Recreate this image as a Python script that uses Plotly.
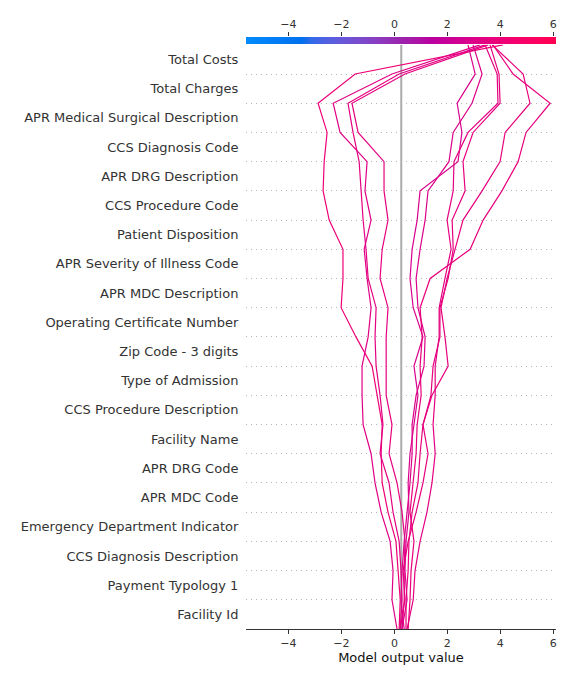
import numpy as np
import plotly.graph_objects as go
from plotly.colors import sample_colorscale

# ---------------- data ----------------
# features listed from top row to bottom row
features = [
    "Total Costs", "Total Charges", "APR Medical Surgical Description",
    "CCS Diagnosis Code", "APR DRG Description", "CCS Procedure Code",
    "Patient Disposition", "APR Severity of Illness Code", "APR MDC Description",
    "Operating Certificate Number", "Zip Code - 3 digits", "Type of Admission",
    "CCS Procedure Description", "Facility Name", "APR DRG Code", "APR MDC Code",
    "Emergency Department Indicator", "CCS Diagnosis Description",
    "Payment Typology 1", "Facility Id",
]
base_value = 0.26
x_range = [-5.6, 6.1]
x_ticks = [-4, -2, 0, 2, 4, 6]
x_tick_labels = ["\u22124", "\u22122", "0", "2", "4", "6"]

# model output along each decision path, from bottom (Facility Id) to top (final output)
path_1 = [0.18, 0.22, 0.14, 0.06, -0.24, -0.46, -0.50, -0.46, -0.65, -0.84, -1.45,
          -2.01, -1.94, -1.94, -2.46, -2.69, -2.65, -2.54, -2.88, -1.48, 4.10]
path_2 = [0.10, -0.09, -0.05, -0.16, -0.50, -0.73, -0.88, -1.18, -1.22, -1.22, -0.99,
          -0.88, -1.03, -1.14, -0.88, -1.11, -1.03, -2.05, -2.31, -0.09, 3.23]
path_3 = [0.22, 0.29, 0.25, 0.18, -0.05, -0.20, -0.54, -0.43, -0.54, -0.69, -0.73,
          -0.69, -0.99, -1.07, -1.18, -1.26, -1.33, -1.56, -1.75, 0.18, 3.42]
path_4 = [0.29, 0.37, 0.37, 0.40, 0.29, 0.10, -0.20, -0.09, -0.31, -0.31, -0.31,
          -0.24, -0.54, -0.46, -0.24, -0.39, -0.39, -1.37, -1.60, 0.40, 3.54]
path_5 = [0.29, 0.48, 0.40, 0.44, 0.55, 0.52, 0.59, 0.74, 0.89, 0.74, 1.08,
          0.71, 0.59, 0.67, 0.86, 0.97, 2.40, 2.55, 2.37, 3.05, 2.78]
path_6 = [0.37, 0.25, 0.29, 0.37, 0.48, 0.59, 0.67, 0.67, 0.82, 1.12, 1.16,
          0.89, 0.82, 0.97, 1.16, 1.27, 2.06, 2.22, 2.93, 3.31, 2.97]
path_7 = [0.48, 0.71, 0.78, 0.97, 1.23, 1.42, 1.54, 1.46, 1.54, 1.54, 1.69,
          1.69, 1.91, 2.14, 1.99, 2.22, 2.25, 2.78, 3.91, 3.88, 3.42]
path_8 = [0.22, 0.40, 0.33, 0.52, 0.82, 1.08, 1.27, 1.08, 1.38, 1.46, 1.72,
          1.72, 2.03, 2.22, 2.18, 2.67, 2.59, 2.97, 3.99, 3.95, 3.61]
path_9 = [0.44, 0.44, 0.52, 0.55, 0.67, 0.89, 0.97, 1.08, 1.42, 2.03, 1.91,
          1.76, 1.99, 2.29, 2.59, 3.31, 3.99, 4.18, 5.12, 4.86, 3.69]
path_10 = [0.52, 0.59, 0.63, 0.74, 0.59, 0.71, 0.82, 0.86, 1.01, 0.97, 1.05,
           0.97, 1.35, 2.86, 3.35, 4.06, 4.67, 4.97, 5.88, 4.48, 3.72]

paths = [path_1, path_2, path_3, path_4, path_5, path_6, path_7, path_8, path_9, path_10]


# ---------------- shap-like red/blue colormap ----------------
def lch_to_hex(l, c, h):
    a, b = c * np.cos(h), c * np.sin(h)
    fy = (l + 16.0) / 116.0
    fx = fy + a / 500.0
    fz = fy - b / 200.0

    def finv(t):
        return t ** 3 if t > 6.0 / 29.0 else 3 * (6.0 / 29.0) ** 2 * (t - 4.0 / 29.0)

    X, Y, Z = 0.95047 * finv(fx), finv(fy), 1.08883 * finv(fz)
    M = np.array([[3.2406, -1.5372, -0.4986],
                  [-0.9689, 1.8758, 0.0415],
                  [0.0557, -0.2040, 1.0570]])
    rgb = M @ np.array([X, Y, Z])
    out = []
    for v in rgb:
        v = 12.92 * v if v <= 0.0031308 else 1.055 * (max(v, 0) ** (1 / 2.4)) - 0.055
        out.append(int(round(min(max(v, 0.0), 1.0) * 255)))
    return "#%02x%02x%02x" % tuple(out)


nsteps = 100
l_vals = list(np.linspace(54.0, 40.0, nsteps // 2)) + list(np.linspace(40.0, 54.0, nsteps // 2))
c_vals = np.linspace(70.0, 90.0, nsteps)
h_vals = np.linspace(4.6588, 0.35470565 + 2 * np.pi, nsteps)
colorscale = [[float(p), lch_to_hex(l, c, h)]
              for p, l, c, h in zip(np.linspace(0, 1, nsteps), l_vals, c_vals, h_vals)]

# ---------------- figure ----------------
fig = go.Figure()

n = len(features)
ypos = list(range(n + 1))
for p in paths:
    t = (p[-1] - x_range[0]) / (x_range[1] - x_range[0])
    col = sample_colorscale(colorscale, [min(max(t, 0), 1)])[0]
    fig.add_trace(go.Scatter(x=p, y=ypos, mode="lines",
                             line=dict(color=col, width=1.2),
                             showlegend=False, hoverinfo="skip"))

# top colour bar
bar_x = np.linspace(x_range[0], x_range[1], 300)
fig.add_trace(go.Heatmap(x=bar_x, y=[0], z=[bar_x], colorscale=colorscale,
                         zmin=x_range[0], zmax=x_range[1], showscale=False,
                         xaxis="x2", yaxis="y2", hoverinfo="skip"))

fig.add_shape(type="line", xref="x", yref="y", x0=base_value, x1=base_value,
              y0=0, y1=n, line=dict(color="#aaaaaa", width=2), layer="below")

font_color = "#333333"
fig.update_layout(
    width=576, height=684,
    margin=dict(l=246, r=20, t=37, b=55),
    paper_bgcolor="white", plot_bgcolor="white",
    font=dict(family="DejaVu Sans", color=font_color),
    xaxis=dict(range=x_range, tickvals=x_ticks, ticktext=x_tick_labels,
               showgrid=False, zeroline=False, showline=True, linecolor=font_color,
               linewidth=1, ticks="outside", ticklen=4, tickcolor=font_color,
               tickfont=dict(size=11, color=font_color),
               title=dict(text="Model output value", font=dict(size=13, color="#111111"),
                          standoff=2),
               anchor="y"),
    yaxis=dict(range=[0, n], domain=[0, 0.9868],
               tickvals=[i + 0.5 for i in range(n)], ticktext=features[::-1],
               showgrid=False, zeroline=False, showline=False,
               ticks="outside", ticklen=4, tickcolor="rgba(0,0,0,0)",
               tickfont=dict(size=13, color=font_color),
               minor=dict(tickvals=list(range(1, n)), showgrid=True,
                          griddash="1px,4px", gridcolor="#b5b5b5", gridwidth=1,
                          ticks="")),
    xaxis2=dict(matches="x", anchor="y2", side="top", tickvals=x_ticks,
                ticktext=x_tick_labels, showgrid=False, zeroline=False,
                showline=False, ticks="outside", ticklen=4, tickcolor=font_color,
                tickfont=dict(size=11, color=font_color)),
    yaxis2=dict(domain=[0.988, 1.0], range=[-0.5, 0.5], showticklabels=False,
                showgrid=False, zeroline=False, ticks=""),
)

fig.write_html("out.html")
